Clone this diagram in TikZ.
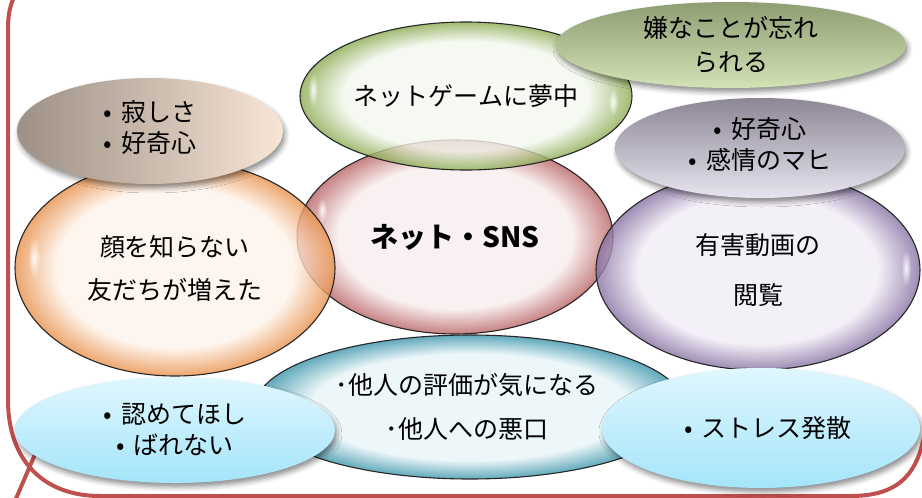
\documentclass[tikz,border=0pt]{standalone}
\usepackage{fontspec}
\newfontfamily\jp{Noto Sans CJK JP}
\usetikzlibrary{shapes.geometric,shadows.blur,fadings}
\definecolor{framered}{HTML}{C0504D}
\definecolor{tealin}{HTML}{E8F5F8}\definecolor{tealout}{HTML}{3A94AA}
\definecolor{pinkin}{HTML}{F8EDED}\definecolor{pinkout}{HTML}{B86262}
\definecolor{orangein}{HTML}{FEF3EA}\definecolor{orangeout}{HTML}{E8904A}
\definecolor{purplein}{HTML}{F1ECF5}\definecolor{purpleout}{HTML}{8670A2}
\definecolor{greenin}{HTML}{F3F7EE}\definecolor{greenout}{HTML}{8AAA50}
\definecolor{olivetop}{HTML}{8E9D72}\definecolor{olivebot}{HTML}{D3E3B6}
\definecolor{lavtop}{HTML}{8D8795}\definecolor{lavbot}{HTML}{E7E3EF}
\definecolor{brownl}{HTML}{9D9086}\definecolor{brownr}{HTML}{F8E6D5}
\definecolor{bluetop}{HTML}{E0F7FE}\definecolor{bluebot}{HTML}{A4E5FA}
\colorlet{glassin}{white}
\colorlet{glassout}{black}
\pgfdeclareradialshading[glassin,glassout]{glass}{\pgfpoint{0bp}{0bp}}{color(0bp)=(glassin); color(18.5bp)=(glassin); color(25bp)=(glassout); color(50bp)=(glassout)}
\tikzfading[name=fuzzy, inner color=transparent!0, outer color=transparent!100]
\tikzset{
  setglass/.code 2 args={\colorlet{glassin}{#1}\colorlet{glassout}{#2}},
  glassy/.style 2 args={ellipse, draw=black!85, line width=1.1pt,
    setglass={#1}{#2},
    shading=glass, fill opacity=0.8, text opacity=1, inner sep=0pt,
    align=center, font=\jp\fontsize{25}{43}\selectfont},
  callout/.style={ellipse, inner sep=0pt, align=center,
    blur shadow={shadow xshift=2pt, shadow yshift=-4pt, shadow blur radius=5pt, shadow opacity=45},
    font=\jp\fontsize{25}{31}\selectfont},
  gloss/.style={fill=white, path fading=fuzzy, fill opacity=0.9},
  frameline/.style={framered, line width=4pt},
}
\newcommand\bul{•\hspace{9pt}}
\newcommand\lowered[1]{\raisebox{-4pt}{\begin{tabular}{@{}c@{}}#1\end{tabular}}}
\begin{document}
\begin{tikzpicture}[x=1pt,y=-1pt]
\useasboundingbox (0,0) rectangle (922,498);
% frame
\draw[frameline] (14,-3) .. controls (9,8) and (8,18) .. (8,30) -- (8,400)
  .. controls (8,462) and (45,496) .. (100,496) -- (850,496)
  .. controls (895,496) and (918,478) .. (925,430);
\coordinate (d1) at (39,445);
\coordinate (d2) at (15,501);
\draw[frameline] (d1) -- (d2);
% glass ellipses
\node[glassy={tealin}{tealout}, minimum width=430pt, minimum height=144pt, font=\jp\fontsize{25}{44}\selectfont] (teal) at (470,407) {\hspace*{-6pt}･他人の評価が気になる\\\hspace*{-6pt}･他人への悪口};
\node[glassy={pinkin}{pinkout}, minimum width=316pt, minimum height=194pt, font=\jp\bfseries\fontsize{28}{34}\selectfont] (pink) at (455,237) {ネット・SNS};
\node[glassy={orangein}{orangeout}, minimum width=320pt, minimum height=216pt] (orange) at (175,268) {顔を知らない\\友だちが増えた};
\node[glassy={purplein}{purpleout}, minimum width=324pt, minimum height=200pt, font=\jp\fontsize{25}{50}\selectfont] (purple) at (758,270) {有害動画の\\閲覧};
\node[glassy={greenin}{greenout}, minimum width=332pt, minimum height=148pt] (green) at (466,96) {ネットゲームに夢中};
% gloss highlights
\fill[gloss] (313,90) ellipse [x radius=5, y radius=17];
\fill[gloss] (613,102) ellipse [x radius=5, y radius=14];
\fill[gloss] (34,258) ellipse [x radius=6, y radius=20];
\fill[gloss] (322,210) ellipse [x radius=5, y radius=12];
\fill[gloss] (906,268) ellipse [x radius=5, y radius=18];
% callouts
\node[callout, top color=olivetop, bottom color=olivebot, minimum width=350pt, minimum height=86pt, font=\jp\fontsize{25}{34}\selectfont] (olive) at (731,45) {嫌なことが忘れ\\られる};
\node[callout, top color=lavtop, bottom color=lavbot, minimum width=290pt, minimum height=100pt] (lav) at (760,148) {\lowered{\bul 好奇心\\\bul 感情のマヒ}};
\node[callout, left color=brownl, right color=brownr, minimum width=266pt, minimum height=106pt] (brown) at (150,131) {\lowered{\bul 寂しさ\\\bul 好奇心}};
\node[callout, top color=bluetop, bottom color=bluebot, minimum width=320pt, minimum height=106pt] (blueL) at (175,430) {\bul 認めてほし\\\bul ばれない};
\node[callout, top color=bluetop, bottom color=bluebot, minimum width=318pt, minimum height=120pt] (blueR) at (761,428) {\hspace*{14pt}\bul ストレス発散};
\end{tikzpicture}
\end{document}
